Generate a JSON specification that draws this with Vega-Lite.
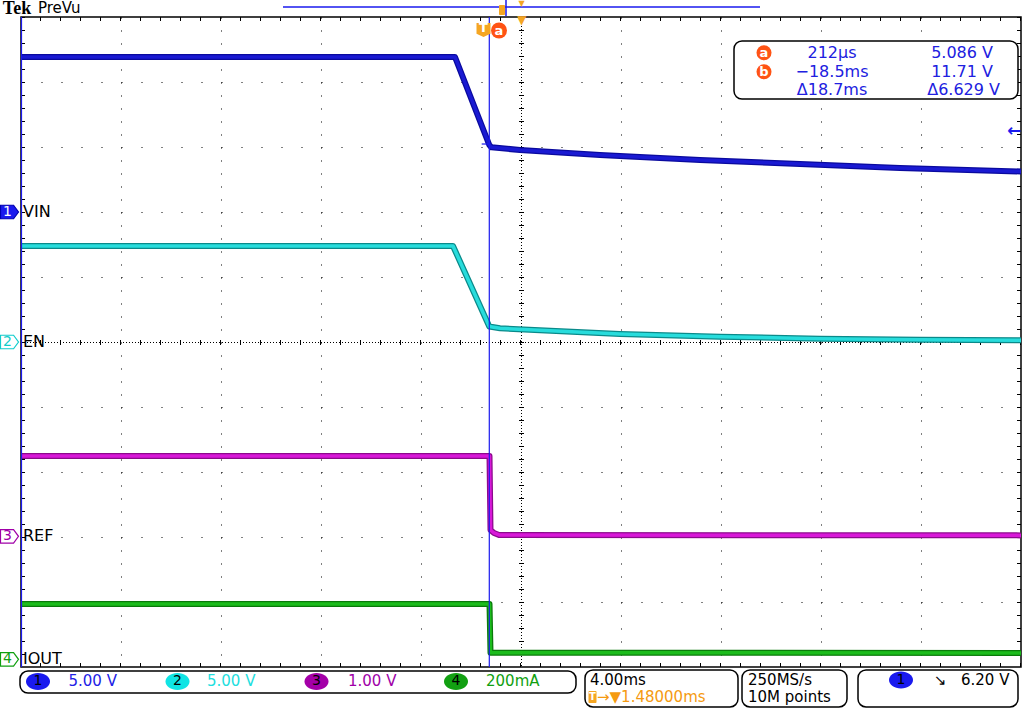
{
  "$schema": "https://vega.github.io/schema/vega-lite/v6.json",
  "width": 1000,
  "height": 650,
  "autosize": {"type": "none"},
  "padding": {"left": 21, "top": 17, "right": 3, "bottom": 45},
  "background": "#ffffff",
  "config": {"view": {"stroke": "#000000", "strokeWidth": 1.5}, "font": "DejaVu Sans", "axis": {"labels": false, "ticks": false, "domain": false, "grid": false, "titleOpacity": 0}},
  "datasets": {
    "traces": [
      {"ch": "VIN", "t": -18.52, "d": 4.385},
      {"ch": "VIN", "t": -1.16, "d": 4.385},
      {"ch": "VIN", "t": 0.212, "d": 3.031},
      {"ch": "VIN", "t": 0.3, "d": 2.995},
      {"ch": "VIN", "t": 1.44, "d": 2.954},
      {"ch": "VIN", "t": 4.64, "d": 2.877},
      {"ch": "VIN", "t": 8.64, "d": 2.8},
      {"ch": "VIN", "t": 12.64, "d": 2.738},
      {"ch": "VIN", "t": 16.64, "d": 2.677},
      {"ch": "VIN", "t": 21.48, "d": 2.623},
      {"ch": "EN", "t": -18.52, "d": 1.477},
      {"ch": "EN", "t": -1.24, "d": 1.477},
      {"ch": "EN", "t": 0.212, "d": 0.238},
      {"ch": "EN", "t": 0.64, "d": 0.211},
      {"ch": "EN", "t": 5.44, "d": 0.123},
      {"ch": "EN", "t": 9.44, "d": 0.082},
      {"ch": "EN", "t": 13.44, "d": 0.051},
      {"ch": "EN", "t": 17.44, "d": 0.035},
      {"ch": "EN", "t": 21.48, "d": 0.026},
      {"ch": "REF", "t": -18.52, "d": -1.754},
      {"ch": "REF", "t": 0.22, "d": -1.754},
      {"ch": "REF", "t": 0.26, "d": -2.892},
      {"ch": "REF", "t": 0.4, "d": -2.938},
      {"ch": "REF", "t": 0.6, "d": -2.969},
      {"ch": "REF", "t": 21.48, "d": -2.975},
      {"ch": "IOUT", "t": -18.52, "d": -4.031},
      {"ch": "IOUT", "t": 0.22, "d": -4.031},
      {"ch": "IOUT", "t": 0.26, "d": -4.78},
      {"ch": "IOUT", "t": 21.48, "d": -4.785}
    ],
    "boxes": [
      {"role": "box", "t": 10.0, "t2": 21.36, "d": 4.631, "d2": 3.738},
      {"role": "box", "t": -18.56, "t2": 3.68, "d": -5.062, "d2": -5.4},
      {"role": "box", "t": 4.04, "t2": 10.16, "d": -5.046, "d2": -5.615},
      {"role": "box", "t": 10.32, "t2": 14.52, "d": -5.046, "d2": -5.615},
      {"role": "box", "t": 14.96, "t2": 21.36, "d": -5.046, "d2": -5.615},
      {"role": "orange", "t": 0.6, "t2": 0.84, "d": 5.185, "d2": 5.031},
      {"role": "orange", "t": 4.18, "t2": 4.5, "d": -5.37, "d2": -5.554}
    ],
    "symbols": [
      {"role": "marker", "ch": "VIN", "t": -18.98, "d": 2.0},
      {"role": "marker", "ch": "EN", "t": -18.98, "d": 0.0},
      {"role": "marker", "ch": "REF", "t": -18.98, "d": -2.99},
      {"role": "marker", "ch": "IOUT", "t": -18.98, "d": -4.882},
      {"role": "ellipse", "ch": "VIN", "t": -17.84, "d": -5.223},
      {"role": "ellipse", "ch": "EN", "t": -12.26, "d": -5.223},
      {"role": "ellipse", "ch": "REF", "t": -6.7, "d": -5.223},
      {"role": "ellipse", "ch": "IOUT", "t": -1.12, "d": -5.223},
      {"role": "ellipse", "ch": "VIN", "t": 16.68, "d": -5.2},
      {"role": "curcircle", "t": 11.2, "d": 4.451},
      {"role": "curcircle", "t": 11.2, "d": 4.158},
      {"role": "bigcircle", "t": 0.6, "d": 4.792},
      {"role": "tmark", "t": -0.02, "d": 4.8}
    ],
    "texts": [
      {"role": "tek", "text": "Tek", "t": -18.68, "d": 5.12},
      {"role": "prevu", "text": "PreVu", "t": -17.84, "d": 5.135},
      {"role": "chlabel", "text": "VIN", "t": -18.44, "d": 2.0},
      {"role": "chlabel", "text": "EN", "t": -18.44, "d": 0.0},
      {"role": "chlabel", "text": "REF", "t": -18.44, "d": -2.99},
      {"role": "chlabel", "text": "IOUT", "t": -18.44, "d": -4.882},
      {"role": "chnum", "ch": "VIN", "text": "1", "t": -19.06, "d": 2.0},
      {"role": "chnum", "ch": "EN", "text": "2", "t": -19.06, "d": 0.0},
      {"role": "chnum", "ch": "REF", "text": "3", "t": -19.06, "d": -2.99},
      {"role": "chnum", "ch": "IOUT", "text": "4", "t": -19.06, "d": -4.882},
      {"role": "readC", "text": "212µs", "t": 13.92, "d": 4.451},
      {"role": "readC", "text": "−18.5ms", "t": 13.92, "d": 4.158},
      {"role": "readC", "text": "Δ18.7ms", "t": 13.92, "d": 3.877},
      {"role": "readR", "text": "5.086 V", "t": 20.36, "d": 4.451},
      {"role": "readR", "text": "11.71 V", "t": 20.36, "d": 4.158},
      {"role": "readR", "text": "Δ6.629 V", "t": 20.64, "d": 3.877},
      {"role": "curid", "text": "a", "t": 11.2, "d": 4.451},
      {"role": "curid", "text": "b", "t": 11.2, "d": 4.158},
      {"role": "bigid", "text": "a", "t": 0.6, "d": 4.792},
      {"role": "trigT", "text": "T", "t": -0.02, "d": 4.83},
      {"role": "smallT", "text": "T", "t": 4.34, "d": -5.462},
      {"role": "status", "text": "4.00ms", "t": 4.24, "d": -5.2},
      {"role": "status", "text": "250MS/s", "t": 10.56, "d": -5.2},
      {"role": "status", "text": "10M points", "t": 10.56, "d": -5.454},
      {"role": "status", "text": "6.20 V", "t": 19.08, "d": -5.2},
      {"role": "edge", "text": "↘", "t": 18.0, "d": -5.2},
      {"role": "statusOrange", "text": "→▼1.48000ms", "t": 4.52, "d": -5.454},
      {"role": "chscale", "ch": "VIN", "text": "5.00 V", "t": -16.62, "d": -5.223},
      {"role": "chscale", "ch": "EN", "text": "5.00 V", "t": -11.08, "d": -5.223},
      {"role": "chscale", "ch": "REF", "text": "1.00 V", "t": -5.44, "d": -5.223},
      {"role": "chscale", "ch": "IOUT", "text": "200mA", "t": 0.08, "d": -5.223},
      {"role": "ellnum", "text": "1", "t": -17.84, "d": -5.223},
      {"role": "ellnum", "text": "2", "t": -12.26, "d": -5.223},
      {"role": "ellnum", "text": "3", "t": -6.7, "d": -5.223},
      {"role": "ellnum", "text": "4", "t": -1.12, "d": -5.223},
      {"role": "ellnum", "text": "1", "t": 16.68, "d": -5.2},
      {"role": "orangeSmall", "text": "▼", "t": 1.5, "d": 5.2},
      {"role": "orangeBig", "text": "▼", "t": 1.5, "d": 4.96},
      {"role": "blueArrow", "text": "←", "t": 21.5, "d": 3.251}
    ]
  },
  "layer": [
    {
      "data": {"values": [{}]},
      "mark": {"type": "rule", "color": "#000000", "strokeWidth": 1, "strokeDash": [1, 2]},
      "encoding": {"y": {"datum": -0.0077, "type": "quantitative"}}
    },
    {
      "data": {"values": [{}]},
      "mark": {"type": "rule", "color": "#000000", "strokeWidth": 5, "strokeDash": [1, 19]},
      "encoding": {"y": {"datum": -0.0077, "type": "quantitative"}}
    },
    {
      "data": {"values": [{}]},
      "mark": {"type": "rule", "color": "#000000", "strokeWidth": 1, "strokeDash": [1, 2]},
      "encoding": {"x": {"datum": 1.5, "type": "quantitative"}}
    },
    {
      "data": {"values": [{}]},
      "mark": {"type": "rule", "color": "#000000", "strokeWidth": 5, "strokeDash": [1, 12]},
      "encoding": {"x": {"datum": 1.5, "type": "quantitative"}}
    },
    {
      "data": {"values": [{"d": 4.969}, {"d": -4.969}]},
      "mark": {"type": "rule", "color": "#000000", "strokeWidth": 4, "strokeDash": [1, 19]},
      "encoding": {"y": {"field": "d", "type": "quantitative"}}
    },
    {
      "data": {"values": [{"t": -18.44}, {"t": 21.4}]},
      "mark": {"type": "rule", "color": "#000000", "strokeWidth": 4, "strokeDash": [1, 12]},
      "encoding": {"x": {"field": "t", "type": "quantitative"}}
    },
    {
      "data": {"name": "traces"},
      "mark": {"type": "line", "strokeWidth": 6, "strokeJoin": "round"},
      "encoding": {
        "x": {"field": "t", "type": "quantitative", "scale": {"domain": [-18.52, 21.48], "nice": false, "zero": false},
          "axis": {"values": [-14.52, -10.52, -6.52, -2.52, 5.48, 9.48, 13.48, 17.48], "grid": true, "gridDash": [1, 12], "gridColor": "#000000", "gridOpacity": 1, "gridWidth": 1, "labels": false, "ticks": false, "domain": false, "title": null}},
        "y": {"field": "d", "type": "quantitative", "scale": {"domain": [-5, 5], "nice": false, "zero": false},
          "axis": {"values": [-4, -3, -2, -1, 1, 2, 3, 4], "grid": true, "gridDash": [1, 19], "gridColor": "#000000", "gridOpacity": 1, "gridWidth": 1, "labels": false, "ticks": false, "domain": false, "title": null}},
        "color": {"field": "ch", "type": "nominal", "scale": {"domain": ["VIN", "EN", "REF", "IOUT"], "range": ["#0a0a9e", "#0a8a8a", "#8c0a8c", "#0a7a0a"]}, "legend": null}
      }
    },
    {
      "data": {"name": "traces"},
      "mark": {"type": "line", "strokeWidth": 3.5, "strokeJoin": "round"},
      "encoding": {
        "x": {"field": "t", "type": "quantitative"},
        "y": {"field": "d", "type": "quantitative"},
        "color": {"field": "ch", "type": "nominal", "scale": {"domain": ["VIN", "EN", "REF", "IOUT"], "range": ["#1a1ad2", "#28dcdc", "#d818d8", "#1cbc1c"]}, "legend": null}
      }
    },
    {
      "data": {"values": [{"t": 0.212}, {"t": -18.5}]},
      "mark": {"type": "rule", "color": "#1a1aee", "strokeWidth": 1.2},
      "encoding": {"x": {"field": "t", "type": "quantitative"}}
    },
    {
      "data": {"values": [{}]},
      "mark": {"type": "rule", "color": "#1a1aee", "strokeWidth": 1.2},
      "encoding": {
        "x": {"datum": -0.092, "type": "quantitative"},
        "x2": {"datum": 0.212},
        "y": {"datum": 3.046, "type": "quantitative"}
      }
    },
    {
      "data": {"values": [{}]},
      "mark": {"type": "rule", "color": "#1a1aee", "strokeWidth": 1.5},
      "encoding": {
        "x": {"datum": -8.04, "type": "quantitative"},
        "x2": {"datum": 11.04},
        "y": {"datum": 5.154, "type": "quantitative"}
      }
    },
    {
      "data": {"values": [{}]},
      "mark": {"type": "rule", "color": "#1a1aee", "strokeWidth": 1.5},
      "encoding": {
        "x": {"datum": 0.88, "type": "quantitative"},
        "y": {"datum": 5.262, "type": "quantitative"},
        "y2": {"datum": 5.015}
      }
    },
    {
      "data": {"name": "boxes"},
      "transform": [{"filter": "datum.role === 'box'"}],
      "mark": {"type": "rect", "fill": "#ffffff", "stroke": "#000000", "strokeWidth": 1.5, "cornerRadius": 8},
      "encoding": {
        "x": {"field": "t", "type": "quantitative"},
        "x2": {"field": "t2"},
        "y": {"field": "d", "type": "quantitative"},
        "y2": {"field": "d2"}
      }
    },
    {
      "data": {"name": "boxes"},
      "transform": [{"filter": "datum.role === 'orange'"}],
      "mark": {"type": "rect", "fill": "#f5a623", "cornerRadius": 1},
      "encoding": {
        "x": {"field": "t", "type": "quantitative"},
        "x2": {"field": "t2"},
        "y": {"field": "d", "type": "quantitative"},
        "y2": {"field": "d2"}
      }
    },
    {
      "data": {"name": "symbols"},
      "transform": [{"filter": "datum.role === 'marker'"}],
      "mark": {"type": "point", "shape": "M-1,-0.75L0.45,-0.75L1,0L0.45,0.75L-1,0.75Z", "size": 324, "filled": true, "strokeWidth": 1.2, "opacity": 1},
      "encoding": {
        "x": {"field": "t", "type": "quantitative"},
        "y": {"field": "d", "type": "quantitative"},
        "fill": {"field": "ch", "type": "nominal", "scale": {"domain": ["VIN", "EN", "REF", "IOUT"], "range": ["#1a1aee", "#ffffff", "#ffffff", "#ffffff"]}, "legend": null},
        "stroke": {"field": "ch", "type": "nominal", "scale": {"domain": ["VIN", "EN", "REF", "IOUT"], "range": ["#0000b0", "#10cccc", "#a000a8", "#10a010"]}, "legend": null}
      }
    },
    {
      "data": {"name": "symbols"},
      "transform": [{"filter": "datum.role === 'ellipse'"}],
      "mark": {"type": "point", "shape": "M-1,0C-1,-0.3866,-0.5523,-0.7,0,-0.7C0.5523,-0.7,1,-0.3866,1,0C1,0.3866,0.5523,0.7,0,0.7C-0.5523,0.7,-1,0.3866,-1,0Z", "size": 576, "filled": true, "strokeWidth": 0, "opacity": 1},
      "encoding": {
        "x": {"field": "t", "type": "quantitative"},
        "y": {"field": "d", "type": "quantitative"},
        "fill": {"field": "ch", "type": "nominal", "scale": {"domain": ["VIN", "EN", "REF", "IOUT"], "range": ["#1a1aee", "#10e4e4", "#a400a8", "#12a012"]}, "legend": null}
      }
    },
    {
      "data": {"name": "symbols"},
      "transform": [{"filter": "datum.role === 'curcircle'"}],
      "mark": {"type": "point", "shape": "circle", "size": 225, "filled": true, "color": "#ff5314", "opacity": 1},
      "encoding": {
        "x": {"field": "t", "type": "quantitative"},
        "y": {"field": "d", "type": "quantitative"}
      }
    },
    {
      "data": {"name": "symbols"},
      "transform": [{"filter": "datum.role === 'bigcircle'"}],
      "mark": {"type": "point", "shape": "circle", "size": 256, "filled": true, "color": "#ff5314", "opacity": 1},
      "encoding": {
        "x": {"field": "t", "type": "quantitative"},
        "y": {"field": "d", "type": "quantitative"}
      }
    },
    {
      "data": {"name": "symbols"},
      "transform": [{"filter": "datum.role === 'tmark'"}],
      "mark": {"type": "point", "shape": "M-1,-1L1,-1L1,0.55L0,1L-1,0.55Z", "size": 196, "filled": true, "color": "#f5a623", "opacity": 1},
      "encoding": {
        "x": {"field": "t", "type": "quantitative"},
        "y": {"field": "d", "type": "quantitative"}
      }
    },
    {
      "data": {"name": "texts"},
      "transform": [{"filter": "datum.role === 'tek'"}],
      "mark": {"type": "text", "align": "center", "baseline": "middle", "font": "Liberation Serif", "fontWeight": "bold", "fontSize": 18, "color": "#000000"},
      "encoding": {"x": {"field": "t", "type": "quantitative"}, "y": {"field": "d", "type": "quantitative"}, "text": {"field": "text"}}
    },
    {
      "data": {"name": "texts"},
      "transform": [{"filter": "datum.role === 'prevu'"}],
      "mark": {"type": "text", "align": "left", "baseline": "middle", "fontSize": 15, "color": "#000000"},
      "encoding": {"x": {"field": "t", "type": "quantitative"}, "y": {"field": "d", "type": "quantitative"}, "text": {"field": "text"}}
    },
    {
      "data": {"name": "texts"},
      "transform": [{"filter": "datum.role === 'chlabel'"}],
      "mark": {"type": "text", "align": "left", "baseline": "middle", "fontSize": 16, "color": "#000000"},
      "encoding": {"x": {"field": "t", "type": "quantitative"}, "y": {"field": "d", "type": "quantitative"}, "text": {"field": "text"}}
    },
    {
      "data": {"name": "texts"},
      "transform": [{"filter": "datum.role === 'chnum'"}],
      "mark": {"type": "text", "align": "center", "baseline": "middle", "fontSize": 14},
      "encoding": {
        "x": {"field": "t", "type": "quantitative"}, "y": {"field": "d", "type": "quantitative"}, "text": {"field": "text"},
        "color": {"field": "ch", "type": "nominal", "scale": {"domain": ["VIN", "EN", "REF", "IOUT"], "range": ["#ffffff", "#10cccc", "#a000a8", "#10a010"]}, "legend": null}
      }
    },
    {
      "data": {"name": "texts"},
      "transform": [{"filter": "datum.role === 'readC'"}],
      "mark": {"type": "text", "align": "center", "baseline": "middle", "fontSize": 16, "color": "#2020e0"},
      "encoding": {"x": {"field": "t", "type": "quantitative"}, "y": {"field": "d", "type": "quantitative"}, "text": {"field": "text"}}
    },
    {
      "data": {"name": "texts"},
      "transform": [{"filter": "datum.role === 'readR'"}],
      "mark": {"type": "text", "align": "right", "baseline": "middle", "fontSize": 16, "color": "#2020e0"},
      "encoding": {"x": {"field": "t", "type": "quantitative"}, "y": {"field": "d", "type": "quantitative"}, "text": {"field": "text"}}
    },
    {
      "data": {"name": "texts"},
      "transform": [{"filter": "datum.role === 'curid' || datum.role === 'bigid' || datum.role === 'trigT'"}],
      "mark": {"type": "text", "align": "center", "baseline": "middle", "fontSize": 13, "fontWeight": "bold", "color": "#ffffff"},
      "encoding": {"x": {"field": "t", "type": "quantitative"}, "y": {"field": "d", "type": "quantitative"}, "text": {"field": "text"}}
    },
    {
      "data": {"name": "texts"},
      "transform": [{"filter": "datum.role === 'smallT'"}],
      "mark": {"type": "text", "align": "center", "baseline": "middle", "fontSize": 10, "fontWeight": "bold", "color": "#ffffff"},
      "encoding": {"x": {"field": "t", "type": "quantitative"}, "y": {"field": "d", "type": "quantitative"}, "text": {"field": "text"}}
    },
    {
      "data": {"name": "texts"},
      "transform": [{"filter": "datum.role === 'status' || datum.role === 'edge'"}],
      "mark": {"type": "text", "align": "left", "baseline": "middle", "fontSize": 15, "color": "#000000"},
      "encoding": {"x": {"field": "t", "type": "quantitative"}, "y": {"field": "d", "type": "quantitative"}, "text": {"field": "text"}}
    },
    {
      "data": {"name": "texts"},
      "transform": [{"filter": "datum.role === 'statusOrange'"}],
      "mark": {"type": "text", "align": "left", "baseline": "middle", "fontSize": 15, "color": "#f59a10"},
      "encoding": {"x": {"field": "t", "type": "quantitative"}, "y": {"field": "d", "type": "quantitative"}, "text": {"field": "text"}}
    },
    {
      "data": {"name": "texts"},
      "transform": [{"filter": "datum.role === 'chscale'"}],
      "mark": {"type": "text", "align": "left", "baseline": "middle", "fontSize": 15},
      "encoding": {
        "x": {"field": "t", "type": "quantitative"}, "y": {"field": "d", "type": "quantitative"}, "text": {"field": "text"},
        "color": {"field": "ch", "type": "nominal", "scale": {"domain": ["VIN", "EN", "REF", "IOUT"], "range": ["#2222e6", "#22dede", "#a000a8", "#10a010"]}, "legend": null}
      }
    },
    {
      "data": {"name": "texts"},
      "transform": [{"filter": "datum.role === 'ellnum'"}],
      "mark": {"type": "text", "align": "center", "baseline": "middle", "fontSize": 14, "color": "#000000"},
      "encoding": {"x": {"field": "t", "type": "quantitative"}, "y": {"field": "d", "type": "quantitative"}, "text": {"field": "text"}}
    },
    {
      "data": {"name": "texts"},
      "transform": [{"filter": "datum.role === 'orangeSmall'"}],
      "mark": {"type": "text", "align": "center", "baseline": "middle", "fontSize": 8, "color": "#f5a623"},
      "encoding": {"x": {"field": "t", "type": "quantitative"}, "y": {"field": "d", "type": "quantitative"}, "text": {"field": "text"}}
    },
    {
      "data": {"name": "texts"},
      "transform": [{"filter": "datum.role === 'orangeBig'"}],
      "mark": {"type": "text", "align": "center", "baseline": "middle", "fontSize": 12, "color": "#f5a623"},
      "encoding": {"x": {"field": "t", "type": "quantitative"}, "y": {"field": "d", "type": "quantitative"}, "text": {"field": "text"}}
    },
    {
      "data": {"name": "texts"},
      "transform": [{"filter": "datum.role === 'blueArrow'"}],
      "mark": {"type": "text", "align": "right", "baseline": "middle", "fontSize": 17, "fontWeight": "bold", "color": "#1a1aee"},
      "encoding": {"x": {"field": "t", "type": "quantitative"}, "y": {"field": "d", "type": "quantitative"}, "text": {"field": "text"}}
    }
  ],
  "resolve": {"scale": {"color": "independent", "fill": "independent", "stroke": "independent"}}
}
